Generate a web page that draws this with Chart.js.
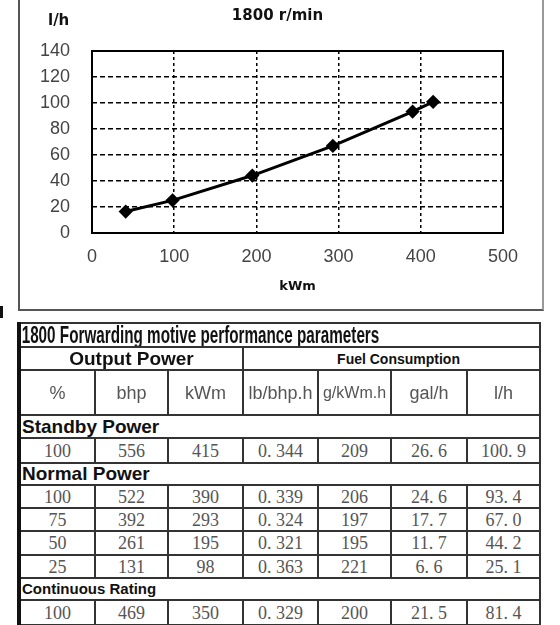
<!DOCTYPE html>
<html>
<head>
<meta charset="utf-8">
<script src="https://cdn.jsdelivr.net/npm/chart.js@4.4.0/dist/chart.umd.min.js"></script>
<style>
  body { margin: 0; background: #fff; width: 560px; height: 625px; overflow: hidden; position: relative; font-family: "Liberation Sans", Arial, sans-serif; }
  #chartBox { position: absolute; left: 18px; top: -2px; width: 526px; height: 313px; box-sizing: border-box; border: 2px solid #555; border-right-color: #999; }
  #chart { position: absolute; left: 0; top: 0; }
  #yUnit { position: absolute; left: 48px; top: 11px; font: bold 15px "DejaVu Sans", sans-serif; color: #111; }
  #chartTitle { position: absolute; left: 0; top: 6px; width: 555px; text-align: center; line-height: 18px; font: bold 15px "DejaVu Sans", sans-serif; color: #111; }
  #mark { position: absolute; left: 0; top: 306px; width: 3px; height: 12px; background: #111; }
  #perf { position: absolute; left: 17px; top: 322px; width: 523px; border-collapse: collapse; table-layout: fixed; }
  #perf td { border: 2px solid #333; padding: 0; text-align: center; color: #555; overflow: hidden; white-space: nowrap; line-height: 16px; }
  #perf tr > td:first-child { border-left: 4px solid #111; }
  #perf .title { text-align: left; color: #111; }
  #perf .title span { display: inline-block; vertical-align: top; font-weight: bold; font-size: 23px; line-height: 20px; transform-origin: 0 50%; padding-left: 1px; }
  #perf .group { font-weight: bold; color: #111; }
  #perf .head { font-size: 18px; }
  #perf .section { text-align: left; font-weight: bold; font-size: 19px; color: #111; padding-left: 1px; }
  #perf .num { font-family: "Liberation Serif", serif; font-size: 18px; }
</style>
</head>
<body>
<div id="chartBox"></div>
<canvas id="chart" width="560" height="310"></canvas>
<div id="yUnit">l/h</div>
<div id="chartTitle">1800 r/min</div>
<div id="mark"></div>
<table id="perf">
  <colgroup id="cols"></colgroup>
  <tbody id="perfBody"></tbody>
</table>
<script>
// chart data
const kwm = [41, 98, 195, 293, 390, 415];
const fuelLh = [16.5, 25.1, 44.2, 67.0, 93.4, 100.9];
const xMin = 0, xMax = 500, xStep = 100;
const yMin = 0, yMax = 140, yStep = 20;

// table data
const tableTitle = '1800 Forwarding motive performance parameters';
const columns = ['%', 'bhp', 'kWm', 'lb/bhp.h', 'g/kWm.h', 'gal/h', 'l/h'];
const colWidths = [76, 73, 75, 75, 73, 76, 73];
const standbyRows = [
    ['100', '556', '415', '0. 344', '209', '26. 6', '100. 9']
];
const normalRows = [
    ['100', '522', '390', '0. 339', '206', '24. 6', '93. 4'],
    ['75', '392', '293', '0. 324', '197', '17. 7', '67. 0'],
    ['50', '261', '195', '0. 321', '195', '11. 7', '44. 2'],
    ['25', '131', '98', '0. 363', '221', '6. 6', '25. 1']
];
const continuousRows = [
    ['100', '469', '350', '0. 329', '200', '21. 5', '81. 4']
];

// build table
document.getElementById('cols').innerHTML = colWidths.map(w => `<col style="width:${w}px">`).join('');
const numRows = (rows, heights) => rows.map((r, i) =>
    `<tr>${r.map(v => `<td class="num" style="height:${heights[i]}px">${v}</td>`).join('')}</tr>`).join('');
document.getElementById('perfBody').innerHTML = `
    <tr><td class="title" colspan="7" style="height:22px"><span id="titleText">${tableTitle}</span></td></tr>
    <tr>
        <td class="group" colspan="3" style="font-size:19px;height:21px">Output Power</td>
        <td class="group" colspan="4" style="font-size:14px;height:21px;padding-left:14px">Fuel Consumption</td>
    </tr>
    <tr>${columns.map(c => `<td class="head" style="height:43px${c === 'g/kWm.h' ? ';font-size:16px' : ''}">${c}</td>`).join('')}</tr>
    <tr><td class="section" colspan="7" style="height:21px">Standby Power</td></tr>
    ${numRows(standbyRows, [23])}
    <tr><td class="section" colspan="7" style="height:20px">Normal Power</td></tr>
    ${numRows(normalRows, [21, 21, 22, 21])}
    <tr><td class="section" colspan="7" style="font-size:15px;height:20px">Continuous Rating</td></tr>
    ${numRows(continuousRows, [23])}
`;
// the title is set in a narrow face: squeeze it to its width in the picture
const tt = document.getElementById('titleText');
tt.style.transform = `scaleX(${358 / tt.offsetWidth})`;

// solid frame round the plot area
const frame = {
    id: 'frame',
    beforeDatasetsDraw(chart) {
        const a = chart.chartArea, c = chart.ctx;
        c.save();
        c.strokeStyle = '#000';
        c.lineWidth = 2;
        c.strokeRect(a.left, a.top, a.right - a.left, a.bottom - a.top);
        c.restore();
    }
};

const edge = (min, max) => ctx => (ctx.tick && (ctx.tick.value === min || ctx.tick.value === max)) ? 'rgba(0,0,0,0)' : '#000';

new Chart(document.getElementById('chart'), {
    type: 'line',
    data: {
        datasets: [{
            data: kwm.map((x, i) => ({ x: x, y: fuelLh[i] })),
            borderColor: '#000',
            backgroundColor: '#000',
            borderWidth: 3,
            pointStyle: 'rectRot',
            pointRadius: 5,
            tension: 0
        }]
    },
    options: {
        responsive: false,
        animation: false,
        layout: { padding: { left: 20, right: 57, top: 51, bottom: 0 } },
        plugins: {
            legend: { display: false },
            tooltip: { enabled: false },
            title: { display: false }
        },
        scales: {
            x: {
                type: 'linear',
                min: xMin, max: xMax,
                afterFit: s => { s.height = 77; },
                ticks: { stepSize: xStep, color: '#444', padding: 13, font: { family: 'Liberation Sans', size: 18 } },
                grid: { color: edge(xMin, xMax), lineWidth: 1.5, drawTicks: false },
                border: { display: false, dash: [3, 3] },
                title: {
                    display: true, text: 'kWm', color: '#111',
                    font: { family: 'DejaVu Sans', size: 13, weight: 'bold' },
                    padding: { top: 0, bottom: 16 }
                }
            },
            y: {
                min: yMin, max: yMax,
                afterFit: s => { s.width = 72; },
                ticks: { stepSize: yStep, color: '#444', padding: 22, font: { family: 'Liberation Sans', size: 18 } },
                grid: { color: edge(yMin, yMax), lineWidth: 1.5, drawTicks: false },
                border: { display: false, dash: [5, 3] }
            }
        }
    },
    plugins: [frame]
});
</script>
</body>
</html>
